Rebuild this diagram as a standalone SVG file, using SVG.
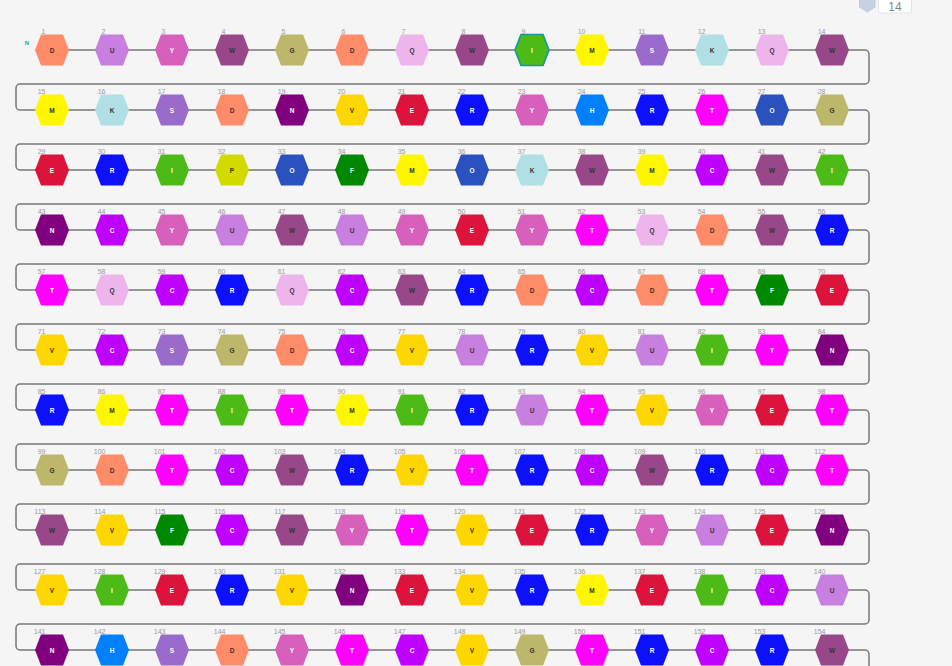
<svg xmlns="http://www.w3.org/2000/svg" xmlns:xlink="http://www.w3.org/1999/xlink" width="952" height="666" viewBox="0 0 952 666">
<style>
.bg{fill:#f5f5f5}
.conn{fill:none;stroke:#777;stroke-width:1.5}
text{font-family:"Liberation Sans",Arial,sans-serif}
.i{font-size:7px;fill:#9a9a9a;text-anchor:end}
.l{font-size:6.5px;font-weight:bold;text-anchor:middle}
.d{fill:#333}
.w{fill:#fff}
.hD{fill:#FF8C69}.hU{fill:#C880E0}.hY{fill:#D660BC}.hW{fill:#984889}.hG{fill:#BDB76B}
.hQ{fill:#EEB5EC}.hI{fill:#4CBB17}.hM{fill:#FFF600}.hS{fill:#9B6BCC}.hK{fill:#B0E0E6}
.hN{fill:#800080}.hV{fill:#FFD700}.hE{fill:#DC143C}.hR{fill:#0C10FF}.hH{fill:#0080FF}
.hT{fill:#FF00FF}.hO{fill:#2A52BE}.hP{fill:#D2DA00}.hF{fill:#008800}.hC{fill:#BF00FF}
.sel{stroke:#1597A0;stroke-width:1.6}
</style>
<defs>
<polygon id="hx" points="-17,0 -11,-15.5 11,-15.5 17,0 11,15.5 -11,15.5"/>
</defs>
<rect class="bg" x="0" y="0" width="952" height="666"/>
<g id="toolbar">
<path d="M859.5,-1 H875 V7 L867.3,12 L859.5,7 Z" fill="#c9d0e0" stroke="#b8c0d4" stroke-width="0.8"/>
<rect x="878.5" y="-3" width="33" height="16" rx="2" fill="#fff" stroke="#e2e4ea" stroke-width="1"/>
<text x="895" y="11" font-size="12" fill="#888" text-anchor="middle">14</text>
</g>
<text x="27" y="44.5" font-size="6" font-weight="bold" fill="#2aa0b0" text-anchor="middle">N</text>
<g id="connectors">
<path class="conn" d="M52 50H865a4 4 0 0 1 4 4V80a4 4 0 0 1-4 4H20a4 4 0 0 0-4 4V106a4 4 0 0 0 4 4H865a4 4 0 0 1 4 4V140a4 4 0 0 1-4 4H20a4 4 0 0 0-4 4V166a4 4 0 0 0 4 4H865a4 4 0 0 1 4 4V200a4 4 0 0 1-4 4H20a4 4 0 0 0-4 4V226a4 4 0 0 0 4 4H865a4 4 0 0 1 4 4V260a4 4 0 0 1-4 4H20a4 4 0 0 0-4 4V286a4 4 0 0 0 4 4H865a4 4 0 0 1 4 4V320a4 4 0 0 1-4 4H20a4 4 0 0 0-4 4V346a4 4 0 0 0 4 4H865a4 4 0 0 1 4 4V380a4 4 0 0 1-4 4H20a4 4 0 0 0-4 4V406a4 4 0 0 0 4 4H865a4 4 0 0 1 4 4V440a4 4 0 0 1-4 4H20a4 4 0 0 0-4 4V466a4 4 0 0 0 4 4H865a4 4 0 0 1 4 4V500a4 4 0 0 1-4 4H20a4 4 0 0 0-4 4V526a4 4 0 0 0 4 4H865a4 4 0 0 1 4 4V560a4 4 0 0 1-4 4H20a4 4 0 0 0-4 4V586a4 4 0 0 0 4 4H865a4 4 0 0 1 4 4V620a4 4 0 0 1-4 4H20a4 4 0 0 0-4 4V646a4 4 0 0 0 4 4H865a4 4 0 0 1 4 4V672"/>
</g>
<g id="nodes">
<g id="n1" transform="translate(52,50)"><use href="#hx" class="hD"/><text class="i" x="-6.5" y="-16">1</text><text class="l d" y="2.5">D</text></g>
<g id="n2" transform="translate(112,50)"><use href="#hx" class="hU"/><text class="i" x="-6.5" y="-16">2</text><text class="l d" y="2.5">U</text></g>
<g id="n3" transform="translate(172,50)"><use href="#hx" class="hY"/><text class="i" x="-6.5" y="-16">3</text><text class="l w" y="2.5">Y</text></g>
<g id="n4" transform="translate(232,50)"><use href="#hx" class="hW"/><text class="i" x="-6.5" y="-16">4</text><text class="l d" y="2.5">W</text></g>
<g id="n5" transform="translate(292,50)"><use href="#hx" class="hG"/><text class="i" x="-6.5" y="-16">5</text><text class="l d" y="2.5">G</text></g>
<g id="n6" transform="translate(352,50)"><use href="#hx" class="hD"/><text class="i" x="-6.5" y="-16">6</text><text class="l d" y="2.5">D</text></g>
<g id="n7" transform="translate(412,50)"><use href="#hx" class="hQ"/><text class="i" x="-6.5" y="-16">7</text><text class="l d" y="2.5">Q</text></g>
<g id="n8" transform="translate(472,50)"><use href="#hx" class="hW"/><text class="i" x="-6.5" y="-16">8</text><text class="l d" y="2.5">W</text></g>
<g id="n9" transform="translate(532,50)"><use href="#hx" class="hI sel"/><text class="i" x="-6.5" y="-16">9</text><text class="l w" y="2.5">I</text></g>
<g id="n10" transform="translate(592,50)"><use href="#hx" class="hM"/><text class="i" x="-6.5" y="-16">10</text><text class="l d" y="2.5">M</text></g>
<g id="n11" transform="translate(652,50)"><use href="#hx" class="hS"/><text class="i" x="-6.5" y="-16">11</text><text class="l w" y="2.5">S</text></g>
<g id="n12" transform="translate(712,50)"><use href="#hx" class="hK"/><text class="i" x="-6.5" y="-16">12</text><text class="l d" y="2.5">K</text></g>
<g id="n13" transform="translate(772,50)"><use href="#hx" class="hQ"/><text class="i" x="-6.5" y="-16">13</text><text class="l d" y="2.5">Q</text></g>
<g id="n14" transform="translate(832,50)"><use href="#hx" class="hW"/><text class="i" x="-6.5" y="-16">14</text><text class="l d" y="2.5">W</text></g>
<g id="n15" transform="translate(52,110)"><use href="#hx" class="hM"/><text class="i" x="-6.5" y="-16">15</text><text class="l d" y="2.5">M</text></g>
<g id="n16" transform="translate(112,110)"><use href="#hx" class="hK"/><text class="i" x="-6.5" y="-16">16</text><text class="l d" y="2.5">K</text></g>
<g id="n17" transform="translate(172,110)"><use href="#hx" class="hS"/><text class="i" x="-6.5" y="-16">17</text><text class="l w" y="2.5">S</text></g>
<g id="n18" transform="translate(232,110)"><use href="#hx" class="hD"/><text class="i" x="-6.5" y="-16">18</text><text class="l d" y="2.5">D</text></g>
<g id="n19" transform="translate(292,110)"><use href="#hx" class="hN"/><text class="i" x="-6.5" y="-16">19</text><text class="l w" y="2.5">N</text></g>
<g id="n20" transform="translate(352,110)"><use href="#hx" class="hV"/><text class="i" x="-6.5" y="-16">20</text><text class="l d" y="2.5">V</text></g>
<g id="n21" transform="translate(412,110)"><use href="#hx" class="hE"/><text class="i" x="-6.5" y="-16">21</text><text class="l w" y="2.5">E</text></g>
<g id="n22" transform="translate(472,110)"><use href="#hx" class="hR"/><text class="i" x="-6.5" y="-16">22</text><text class="l w" y="2.5">R</text></g>
<g id="n23" transform="translate(532,110)"><use href="#hx" class="hY"/><text class="i" x="-6.5" y="-16">23</text><text class="l w" y="2.5">Y</text></g>
<g id="n24" transform="translate(592,110)"><use href="#hx" class="hH"/><text class="i" x="-6.5" y="-16">24</text><text class="l w" y="2.5">H</text></g>
<g id="n25" transform="translate(652,110)"><use href="#hx" class="hR"/><text class="i" x="-6.5" y="-16">25</text><text class="l w" y="2.5">R</text></g>
<g id="n26" transform="translate(712,110)"><use href="#hx" class="hT"/><text class="i" x="-6.5" y="-16">26</text><text class="l w" y="2.5">T</text></g>
<g id="n27" transform="translate(772,110)"><use href="#hx" class="hO"/><text class="i" x="-6.5" y="-16">27</text><text class="l w" y="2.5">O</text></g>
<g id="n28" transform="translate(832,110)"><use href="#hx" class="hG"/><text class="i" x="-6.5" y="-16">28</text><text class="l d" y="2.5">G</text></g>
<g id="n29" transform="translate(52,170)"><use href="#hx" class="hE"/><text class="i" x="-6.5" y="-16">29</text><text class="l w" y="2.5">E</text></g>
<g id="n30" transform="translate(112,170)"><use href="#hx" class="hR"/><text class="i" x="-6.5" y="-16">30</text><text class="l w" y="2.5">R</text></g>
<g id="n31" transform="translate(172,170)"><use href="#hx" class="hI"/><text class="i" x="-6.5" y="-16">31</text><text class="l w" y="2.5">I</text></g>
<g id="n32" transform="translate(232,170)"><use href="#hx" class="hP"/><text class="i" x="-6.5" y="-16">32</text><text class="l d" y="2.5">P</text></g>
<g id="n33" transform="translate(292,170)"><use href="#hx" class="hO"/><text class="i" x="-6.5" y="-16">33</text><text class="l w" y="2.5">O</text></g>
<g id="n34" transform="translate(352,170)"><use href="#hx" class="hF"/><text class="i" x="-6.5" y="-16">34</text><text class="l w" y="2.5">F</text></g>
<g id="n35" transform="translate(412,170)"><use href="#hx" class="hM"/><text class="i" x="-6.5" y="-16">35</text><text class="l d" y="2.5">M</text></g>
<g id="n36" transform="translate(472,170)"><use href="#hx" class="hO"/><text class="i" x="-6.5" y="-16">36</text><text class="l w" y="2.5">O</text></g>
<g id="n37" transform="translate(532,170)"><use href="#hx" class="hK"/><text class="i" x="-6.5" y="-16">37</text><text class="l d" y="2.5">K</text></g>
<g id="n38" transform="translate(592,170)"><use href="#hx" class="hW"/><text class="i" x="-6.5" y="-16">38</text><text class="l d" y="2.5">W</text></g>
<g id="n39" transform="translate(652,170)"><use href="#hx" class="hM"/><text class="i" x="-6.5" y="-16">39</text><text class="l d" y="2.5">M</text></g>
<g id="n40" transform="translate(712,170)"><use href="#hx" class="hC"/><text class="i" x="-6.5" y="-16">40</text><text class="l w" y="2.5">C</text></g>
<g id="n41" transform="translate(772,170)"><use href="#hx" class="hW"/><text class="i" x="-6.5" y="-16">41</text><text class="l d" y="2.5">W</text></g>
<g id="n42" transform="translate(832,170)"><use href="#hx" class="hI"/><text class="i" x="-6.5" y="-16">42</text><text class="l w" y="2.5">I</text></g>
<g id="n43" transform="translate(52,230)"><use href="#hx" class="hN"/><text class="i" x="-6.5" y="-16">43</text><text class="l w" y="2.5">N</text></g>
<g id="n44" transform="translate(112,230)"><use href="#hx" class="hC"/><text class="i" x="-6.5" y="-16">44</text><text class="l w" y="2.5">C</text></g>
<g id="n45" transform="translate(172,230)"><use href="#hx" class="hY"/><text class="i" x="-6.5" y="-16">45</text><text class="l w" y="2.5">Y</text></g>
<g id="n46" transform="translate(232,230)"><use href="#hx" class="hU"/><text class="i" x="-6.5" y="-16">46</text><text class="l d" y="2.5">U</text></g>
<g id="n47" transform="translate(292,230)"><use href="#hx" class="hW"/><text class="i" x="-6.5" y="-16">47</text><text class="l d" y="2.5">W</text></g>
<g id="n48" transform="translate(352,230)"><use href="#hx" class="hU"/><text class="i" x="-6.5" y="-16">48</text><text class="l d" y="2.5">U</text></g>
<g id="n49" transform="translate(412,230)"><use href="#hx" class="hY"/><text class="i" x="-6.5" y="-16">49</text><text class="l w" y="2.5">Y</text></g>
<g id="n50" transform="translate(472,230)"><use href="#hx" class="hE"/><text class="i" x="-6.5" y="-16">50</text><text class="l w" y="2.5">E</text></g>
<g id="n51" transform="translate(532,230)"><use href="#hx" class="hY"/><text class="i" x="-6.5" y="-16">51</text><text class="l w" y="2.5">Y</text></g>
<g id="n52" transform="translate(592,230)"><use href="#hx" class="hT"/><text class="i" x="-6.5" y="-16">52</text><text class="l w" y="2.5">T</text></g>
<g id="n53" transform="translate(652,230)"><use href="#hx" class="hQ"/><text class="i" x="-6.5" y="-16">53</text><text class="l d" y="2.5">Q</text></g>
<g id="n54" transform="translate(712,230)"><use href="#hx" class="hD"/><text class="i" x="-6.5" y="-16">54</text><text class="l d" y="2.5">D</text></g>
<g id="n55" transform="translate(772,230)"><use href="#hx" class="hW"/><text class="i" x="-6.5" y="-16">55</text><text class="l d" y="2.5">W</text></g>
<g id="n56" transform="translate(832,230)"><use href="#hx" class="hR"/><text class="i" x="-6.5" y="-16">56</text><text class="l w" y="2.5">R</text></g>
<g id="n57" transform="translate(52,290)"><use href="#hx" class="hT"/><text class="i" x="-6.5" y="-16">57</text><text class="l w" y="2.5">T</text></g>
<g id="n58" transform="translate(112,290)"><use href="#hx" class="hQ"/><text class="i" x="-6.5" y="-16">58</text><text class="l d" y="2.5">Q</text></g>
<g id="n59" transform="translate(172,290)"><use href="#hx" class="hC"/><text class="i" x="-6.5" y="-16">59</text><text class="l w" y="2.5">C</text></g>
<g id="n60" transform="translate(232,290)"><use href="#hx" class="hR"/><text class="i" x="-6.5" y="-16">60</text><text class="l w" y="2.5">R</text></g>
<g id="n61" transform="translate(292,290)"><use href="#hx" class="hQ"/><text class="i" x="-6.5" y="-16">61</text><text class="l d" y="2.5">Q</text></g>
<g id="n62" transform="translate(352,290)"><use href="#hx" class="hC"/><text class="i" x="-6.5" y="-16">62</text><text class="l w" y="2.5">C</text></g>
<g id="n63" transform="translate(412,290)"><use href="#hx" class="hW"/><text class="i" x="-6.5" y="-16">63</text><text class="l d" y="2.5">W</text></g>
<g id="n64" transform="translate(472,290)"><use href="#hx" class="hR"/><text class="i" x="-6.5" y="-16">64</text><text class="l w" y="2.5">R</text></g>
<g id="n65" transform="translate(532,290)"><use href="#hx" class="hD"/><text class="i" x="-6.5" y="-16">65</text><text class="l d" y="2.5">D</text></g>
<g id="n66" transform="translate(592,290)"><use href="#hx" class="hC"/><text class="i" x="-6.5" y="-16">66</text><text class="l w" y="2.5">C</text></g>
<g id="n67" transform="translate(652,290)"><use href="#hx" class="hD"/><text class="i" x="-6.5" y="-16">67</text><text class="l d" y="2.5">D</text></g>
<g id="n68" transform="translate(712,290)"><use href="#hx" class="hT"/><text class="i" x="-6.5" y="-16">68</text><text class="l w" y="2.5">T</text></g>
<g id="n69" transform="translate(772,290)"><use href="#hx" class="hF"/><text class="i" x="-6.5" y="-16">69</text><text class="l w" y="2.5">F</text></g>
<g id="n70" transform="translate(832,290)"><use href="#hx" class="hE"/><text class="i" x="-6.5" y="-16">70</text><text class="l w" y="2.5">E</text></g>
<g id="n71" transform="translate(52,350)"><use href="#hx" class="hV"/><text class="i" x="-6.5" y="-16">71</text><text class="l d" y="2.5">V</text></g>
<g id="n72" transform="translate(112,350)"><use href="#hx" class="hC"/><text class="i" x="-6.5" y="-16">72</text><text class="l w" y="2.5">C</text></g>
<g id="n73" transform="translate(172,350)"><use href="#hx" class="hS"/><text class="i" x="-6.5" y="-16">73</text><text class="l w" y="2.5">S</text></g>
<g id="n74" transform="translate(232,350)"><use href="#hx" class="hG"/><text class="i" x="-6.5" y="-16">74</text><text class="l d" y="2.5">G</text></g>
<g id="n75" transform="translate(292,350)"><use href="#hx" class="hD"/><text class="i" x="-6.5" y="-16">75</text><text class="l d" y="2.5">D</text></g>
<g id="n76" transform="translate(352,350)"><use href="#hx" class="hC"/><text class="i" x="-6.5" y="-16">76</text><text class="l w" y="2.5">C</text></g>
<g id="n77" transform="translate(412,350)"><use href="#hx" class="hV"/><text class="i" x="-6.5" y="-16">77</text><text class="l d" y="2.5">V</text></g>
<g id="n78" transform="translate(472,350)"><use href="#hx" class="hU"/><text class="i" x="-6.5" y="-16">78</text><text class="l d" y="2.5">U</text></g>
<g id="n79" transform="translate(532,350)"><use href="#hx" class="hR"/><text class="i" x="-6.5" y="-16">79</text><text class="l w" y="2.5">R</text></g>
<g id="n80" transform="translate(592,350)"><use href="#hx" class="hV"/><text class="i" x="-6.5" y="-16">80</text><text class="l d" y="2.5">V</text></g>
<g id="n81" transform="translate(652,350)"><use href="#hx" class="hU"/><text class="i" x="-6.5" y="-16">81</text><text class="l d" y="2.5">U</text></g>
<g id="n82" transform="translate(712,350)"><use href="#hx" class="hI"/><text class="i" x="-6.5" y="-16">82</text><text class="l w" y="2.5">I</text></g>
<g id="n83" transform="translate(772,350)"><use href="#hx" class="hT"/><text class="i" x="-6.5" y="-16">83</text><text class="l w" y="2.5">T</text></g>
<g id="n84" transform="translate(832,350)"><use href="#hx" class="hN"/><text class="i" x="-6.5" y="-16">84</text><text class="l w" y="2.5">N</text></g>
<g id="n85" transform="translate(52,410)"><use href="#hx" class="hR"/><text class="i" x="-6.5" y="-16">85</text><text class="l w" y="2.5">R</text></g>
<g id="n86" transform="translate(112,410)"><use href="#hx" class="hM"/><text class="i" x="-6.5" y="-16">86</text><text class="l d" y="2.5">M</text></g>
<g id="n87" transform="translate(172,410)"><use href="#hx" class="hT"/><text class="i" x="-6.5" y="-16">87</text><text class="l w" y="2.5">T</text></g>
<g id="n88" transform="translate(232,410)"><use href="#hx" class="hI"/><text class="i" x="-6.5" y="-16">88</text><text class="l w" y="2.5">I</text></g>
<g id="n89" transform="translate(292,410)"><use href="#hx" class="hT"/><text class="i" x="-6.5" y="-16">89</text><text class="l w" y="2.5">T</text></g>
<g id="n90" transform="translate(352,410)"><use href="#hx" class="hM"/><text class="i" x="-6.5" y="-16">90</text><text class="l d" y="2.5">M</text></g>
<g id="n91" transform="translate(412,410)"><use href="#hx" class="hI"/><text class="i" x="-6.5" y="-16">91</text><text class="l w" y="2.5">I</text></g>
<g id="n92" transform="translate(472,410)"><use href="#hx" class="hR"/><text class="i" x="-6.5" y="-16">92</text><text class="l w" y="2.5">R</text></g>
<g id="n93" transform="translate(532,410)"><use href="#hx" class="hU"/><text class="i" x="-6.5" y="-16">93</text><text class="l d" y="2.5">U</text></g>
<g id="n94" transform="translate(592,410)"><use href="#hx" class="hT"/><text class="i" x="-6.5" y="-16">94</text><text class="l w" y="2.5">T</text></g>
<g id="n95" transform="translate(652,410)"><use href="#hx" class="hV"/><text class="i" x="-6.5" y="-16">95</text><text class="l d" y="2.5">V</text></g>
<g id="n96" transform="translate(712,410)"><use href="#hx" class="hY"/><text class="i" x="-6.5" y="-16">96</text><text class="l w" y="2.5">Y</text></g>
<g id="n97" transform="translate(772,410)"><use href="#hx" class="hE"/><text class="i" x="-6.5" y="-16">97</text><text class="l w" y="2.5">E</text></g>
<g id="n98" transform="translate(832,410)"><use href="#hx" class="hT"/><text class="i" x="-6.5" y="-16">98</text><text class="l w" y="2.5">T</text></g>
<g id="n99" transform="translate(52,470)"><use href="#hx" class="hG"/><text class="i" x="-6.5" y="-16">99</text><text class="l d" y="2.5">G</text></g>
<g id="n100" transform="translate(112,470)"><use href="#hx" class="hD"/><text class="i" x="-6.5" y="-16">100</text><text class="l d" y="2.5">D</text></g>
<g id="n101" transform="translate(172,470)"><use href="#hx" class="hT"/><text class="i" x="-6.5" y="-16">101</text><text class="l w" y="2.5">T</text></g>
<g id="n102" transform="translate(232,470)"><use href="#hx" class="hC"/><text class="i" x="-6.5" y="-16">102</text><text class="l w" y="2.5">C</text></g>
<g id="n103" transform="translate(292,470)"><use href="#hx" class="hW"/><text class="i" x="-6.5" y="-16">103</text><text class="l d" y="2.5">W</text></g>
<g id="n104" transform="translate(352,470)"><use href="#hx" class="hR"/><text class="i" x="-6.5" y="-16">104</text><text class="l w" y="2.5">R</text></g>
<g id="n105" transform="translate(412,470)"><use href="#hx" class="hV"/><text class="i" x="-6.5" y="-16">105</text><text class="l d" y="2.5">V</text></g>
<g id="n106" transform="translate(472,470)"><use href="#hx" class="hT"/><text class="i" x="-6.5" y="-16">106</text><text class="l w" y="2.5">T</text></g>
<g id="n107" transform="translate(532,470)"><use href="#hx" class="hR"/><text class="i" x="-6.5" y="-16">107</text><text class="l w" y="2.5">R</text></g>
<g id="n108" transform="translate(592,470)"><use href="#hx" class="hC"/><text class="i" x="-6.5" y="-16">108</text><text class="l w" y="2.5">C</text></g>
<g id="n109" transform="translate(652,470)"><use href="#hx" class="hW"/><text class="i" x="-6.5" y="-16">109</text><text class="l d" y="2.5">W</text></g>
<g id="n110" transform="translate(712,470)"><use href="#hx" class="hR"/><text class="i" x="-6.5" y="-16">110</text><text class="l w" y="2.5">R</text></g>
<g id="n111" transform="translate(772,470)"><use href="#hx" class="hC"/><text class="i" x="-6.5" y="-16">111</text><text class="l w" y="2.5">C</text></g>
<g id="n112" transform="translate(832,470)"><use href="#hx" class="hT"/><text class="i" x="-6.5" y="-16">112</text><text class="l w" y="2.5">T</text></g>
<g id="n113" transform="translate(52,530)"><use href="#hx" class="hW"/><text class="i" x="-6.5" y="-16">113</text><text class="l d" y="2.5">W</text></g>
<g id="n114" transform="translate(112,530)"><use href="#hx" class="hV"/><text class="i" x="-6.5" y="-16">114</text><text class="l d" y="2.5">V</text></g>
<g id="n115" transform="translate(172,530)"><use href="#hx" class="hF"/><text class="i" x="-6.5" y="-16">115</text><text class="l w" y="2.5">F</text></g>
<g id="n116" transform="translate(232,530)"><use href="#hx" class="hC"/><text class="i" x="-6.5" y="-16">116</text><text class="l w" y="2.5">C</text></g>
<g id="n117" transform="translate(292,530)"><use href="#hx" class="hW"/><text class="i" x="-6.5" y="-16">117</text><text class="l d" y="2.5">W</text></g>
<g id="n118" transform="translate(352,530)"><use href="#hx" class="hY"/><text class="i" x="-6.5" y="-16">118</text><text class="l w" y="2.5">Y</text></g>
<g id="n119" transform="translate(412,530)"><use href="#hx" class="hT"/><text class="i" x="-6.5" y="-16">119</text><text class="l w" y="2.5">T</text></g>
<g id="n120" transform="translate(472,530)"><use href="#hx" class="hV"/><text class="i" x="-6.5" y="-16">120</text><text class="l d" y="2.5">V</text></g>
<g id="n121" transform="translate(532,530)"><use href="#hx" class="hE"/><text class="i" x="-6.5" y="-16">121</text><text class="l w" y="2.5">E</text></g>
<g id="n122" transform="translate(592,530)"><use href="#hx" class="hR"/><text class="i" x="-6.5" y="-16">122</text><text class="l w" y="2.5">R</text></g>
<g id="n123" transform="translate(652,530)"><use href="#hx" class="hY"/><text class="i" x="-6.5" y="-16">123</text><text class="l w" y="2.5">Y</text></g>
<g id="n124" transform="translate(712,530)"><use href="#hx" class="hU"/><text class="i" x="-6.5" y="-16">124</text><text class="l d" y="2.5">U</text></g>
<g id="n125" transform="translate(772,530)"><use href="#hx" class="hE"/><text class="i" x="-6.5" y="-16">125</text><text class="l w" y="2.5">E</text></g>
<g id="n126" transform="translate(832,530)"><use href="#hx" class="hN"/><text class="i" x="-6.5" y="-16">126</text><text class="l w" y="2.5">N</text></g>
<g id="n127" transform="translate(52,590)"><use href="#hx" class="hV"/><text class="i" x="-6.5" y="-16">127</text><text class="l d" y="2.5">V</text></g>
<g id="n128" transform="translate(112,590)"><use href="#hx" class="hI"/><text class="i" x="-6.5" y="-16">128</text><text class="l w" y="2.5">I</text></g>
<g id="n129" transform="translate(172,590)"><use href="#hx" class="hE"/><text class="i" x="-6.5" y="-16">129</text><text class="l w" y="2.5">E</text></g>
<g id="n130" transform="translate(232,590)"><use href="#hx" class="hR"/><text class="i" x="-6.5" y="-16">130</text><text class="l w" y="2.5">R</text></g>
<g id="n131" transform="translate(292,590)"><use href="#hx" class="hV"/><text class="i" x="-6.5" y="-16">131</text><text class="l d" y="2.5">V</text></g>
<g id="n132" transform="translate(352,590)"><use href="#hx" class="hN"/><text class="i" x="-6.5" y="-16">132</text><text class="l w" y="2.5">N</text></g>
<g id="n133" transform="translate(412,590)"><use href="#hx" class="hE"/><text class="i" x="-6.5" y="-16">133</text><text class="l w" y="2.5">E</text></g>
<g id="n134" transform="translate(472,590)"><use href="#hx" class="hV"/><text class="i" x="-6.5" y="-16">134</text><text class="l d" y="2.5">V</text></g>
<g id="n135" transform="translate(532,590)"><use href="#hx" class="hR"/><text class="i" x="-6.5" y="-16">135</text><text class="l w" y="2.5">R</text></g>
<g id="n136" transform="translate(592,590)"><use href="#hx" class="hM"/><text class="i" x="-6.5" y="-16">136</text><text class="l d" y="2.5">M</text></g>
<g id="n137" transform="translate(652,590)"><use href="#hx" class="hE"/><text class="i" x="-6.5" y="-16">137</text><text class="l w" y="2.5">E</text></g>
<g id="n138" transform="translate(712,590)"><use href="#hx" class="hI"/><text class="i" x="-6.5" y="-16">138</text><text class="l w" y="2.5">I</text></g>
<g id="n139" transform="translate(772,590)"><use href="#hx" class="hC"/><text class="i" x="-6.5" y="-16">139</text><text class="l w" y="2.5">C</text></g>
<g id="n140" transform="translate(832,590)"><use href="#hx" class="hU"/><text class="i" x="-6.5" y="-16">140</text><text class="l d" y="2.5">U</text></g>
<g id="n141" transform="translate(52,650)"><use href="#hx" class="hN"/><text class="i" x="-6.5" y="-16">141</text><text class="l w" y="2.5">N</text></g>
<g id="n142" transform="translate(112,650)"><use href="#hx" class="hH"/><text class="i" x="-6.5" y="-16">142</text><text class="l w" y="2.5">H</text></g>
<g id="n143" transform="translate(172,650)"><use href="#hx" class="hS"/><text class="i" x="-6.5" y="-16">143</text><text class="l w" y="2.5">S</text></g>
<g id="n144" transform="translate(232,650)"><use href="#hx" class="hD"/><text class="i" x="-6.5" y="-16">144</text><text class="l d" y="2.5">D</text></g>
<g id="n145" transform="translate(292,650)"><use href="#hx" class="hY"/><text class="i" x="-6.5" y="-16">145</text><text class="l w" y="2.5">Y</text></g>
<g id="n146" transform="translate(352,650)"><use href="#hx" class="hT"/><text class="i" x="-6.5" y="-16">146</text><text class="l w" y="2.5">T</text></g>
<g id="n147" transform="translate(412,650)"><use href="#hx" class="hC"/><text class="i" x="-6.5" y="-16">147</text><text class="l w" y="2.5">C</text></g>
<g id="n148" transform="translate(472,650)"><use href="#hx" class="hV"/><text class="i" x="-6.5" y="-16">148</text><text class="l d" y="2.5">V</text></g>
<g id="n149" transform="translate(532,650)"><use href="#hx" class="hG"/><text class="i" x="-6.5" y="-16">149</text><text class="l d" y="2.5">G</text></g>
<g id="n150" transform="translate(592,650)"><use href="#hx" class="hT"/><text class="i" x="-6.5" y="-16">150</text><text class="l w" y="2.5">T</text></g>
<g id="n151" transform="translate(652,650)"><use href="#hx" class="hR"/><text class="i" x="-6.5" y="-16">151</text><text class="l w" y="2.5">R</text></g>
<g id="n152" transform="translate(712,650)"><use href="#hx" class="hC"/><text class="i" x="-6.5" y="-16">152</text><text class="l w" y="2.5">C</text></g>
<g id="n153" transform="translate(772,650)"><use href="#hx" class="hR"/><text class="i" x="-6.5" y="-16">153</text><text class="l w" y="2.5">R</text></g>
<g id="n154" transform="translate(832,650)"><use href="#hx" class="hW"/><text class="i" x="-6.5" y="-16">154</text><text class="l d" y="2.5">W</text></g>
</g>
</svg>
